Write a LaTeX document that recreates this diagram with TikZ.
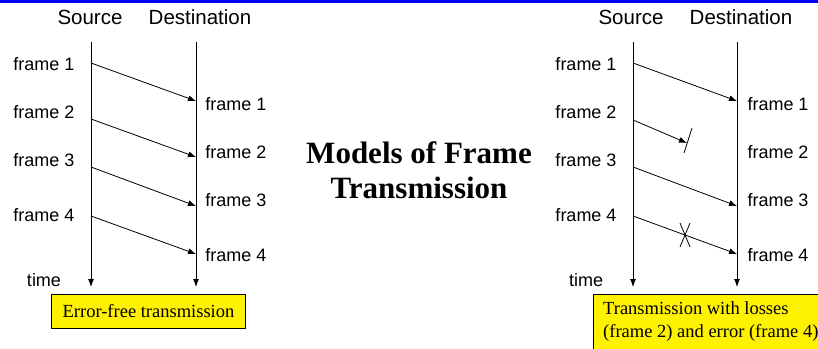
\documentclass[tikz,border=0pt]{standalone}
\usepackage{fontspec}
\setmainfont{Liberation Sans}
\newfontfamily\timesfont{Liberation Serif}
\usetikzlibrary{arrows.meta}

\begin{document}
\begin{tikzpicture}[x=1pt,y=-1pt,
  lbl/.style={font=\fontsize{18}{20}\selectfont},
  hdr/.style={font=\fontsize{20.5}{22}\selectfont},
  msg/.style={-{Latex[length=8pt,width=6pt]},line width=0.8pt},
  timeline/.style={-{Latex[length=8pt,width=6pt]},line width=0.9pt},
  notebox/.style={draw,fill=yellow,line width=0.8pt}]
  \useasboundingbox (0,0) rectangle (818,348);
  % Top bar
  \fill[blue] (0,0) rectangle (818,3);
  % Title
  \node[font=\timesfont\bfseries\fontsize{31}{35}\selectfont,align=center]
    (title) at (419,170) {Models of Frame\\Transmission};

  % Error-free case
  \node[hdr] (src) at (90,17) {Source};
  \node[hdr] (dst) at (200,17) {Destination};
  \coordinate (sTop) at (91,42);
  \coordinate (dTop) at (196,42);
  \coordinate (sBot) at (91,287);
  \coordinate (dBot) at (196,287);
  \draw[timeline] (sTop) -- (sBot);
  \draw[timeline] (dTop) -- (dBot);
  \node[lbl] (time) at (44,280) {time};
  \node[lbl] (sf1) at (44,64) {frame 1};
  \node[lbl] (sf2) at (44,112) {frame 2};
  \node[lbl] (sf3) at (44,160) {frame 3};
  \node[lbl] (sf4) at (44,215) {frame 4};
  \node[lbl] (df1) at (236,104) {frame 1};
  \node[lbl] (df2) at (236,152) {frame 2};
  \node[lbl] (df3) at (236,200) {frame 3};
  \node[lbl] (df4) at (236,255) {frame 4};
  \coordinate (s1) at (91,63);  \coordinate (d1) at (196,101);
  \coordinate (s2) at (91,119); \coordinate (d2) at (196,157);
  \coordinate (s3) at (91,167); \coordinate (d3) at (196,206);
  \coordinate (s4) at (91,216); \coordinate (d4) at (196,254);
  \draw[msg] (s1) -- (d1);
  \draw[msg] (s2) -- (d2);
  \draw[msg] (s3) -- (d3);
  \draw[msg] (s4) -- (d4);
  \node[notebox,minimum width=194pt,minimum height=34pt,
    font=\timesfont\fontsize{18.5}{23}\selectfont] (okbox) at (148.5,311)
    {Error-free transmission};

  % Case with losses and error
  \node[hdr] (rsrc) at (631,17) {Source};
  \node[hdr] (rdst) at (741,17) {Destination};
  \coordinate (rsTop) at (633,42);
  \coordinate (rdTop) at (737,42);
  \coordinate (rsBot) at (633,287);
  \coordinate (rdBot) at (737,287);
  \draw[timeline] (rsTop) -- (rsBot);
  \draw[timeline] (rdTop) -- (rdBot);
  \node[lbl] (rtime) at (586,280) {time};
  \node[lbl] (rsf1) at (586,64) {frame 1};
  \node[lbl] (rsf2) at (586,112) {frame 2};
  \node[lbl] (rsf3) at (586,160) {frame 3};
  \node[lbl] (rsf4) at (586,215) {frame 4};
  \node[lbl] (rdf1) at (778,104) {frame 1};
  \node[lbl] (rdf2) at (778,152) {frame 2};
  \node[lbl] (rdf3) at (778,200) {frame 3};
  \node[lbl] (rdf4) at (778,255) {frame 4};
  \coordinate (rs1) at (633,63);  \coordinate (rd1) at (737,101);
  \coordinate (rs2) at (633,120); \coordinate (rl2) at (687,143);
  \coordinate (rs3) at (633,167); \coordinate (rd3) at (737,206);
  \coordinate (rs4) at (633,216); \coordinate (rd4) at (737,254);
  \draw[msg] (rs1) -- (rd1);
  \draw[msg] (rs2) -- (rl2);
  \draw[msg] (rs3) -- (rd3);
  \draw[msg] (rs4) -- (rd4);
  % Loss and error marks
  \draw[line width=0.8pt] ([shift={(5,-15)}]rl2) -- ([shift={(-3,10)}]rl2);
  \coordinate (err) at (685,235);
  \draw[line width=0.8pt] ([shift={(-5,-12)}]err) -- ([shift={(5,12)}]err);
  \draw[line width=0.8pt] ([shift={(5,-12)}]err) -- ([shift={(-5,12)}]err);
  \draw[notebox] (593,294) rectangle (840,370);
  \node[anchor=north west,align=left,inner sep=0pt,
    font=\timesfont\fontsize{18.5}{23}\selectfont] (lossbox) at (603,301)
    {Transmission with losses\\(frame 2) and error (frame 4)};
\end{tikzpicture}
\end{document}
